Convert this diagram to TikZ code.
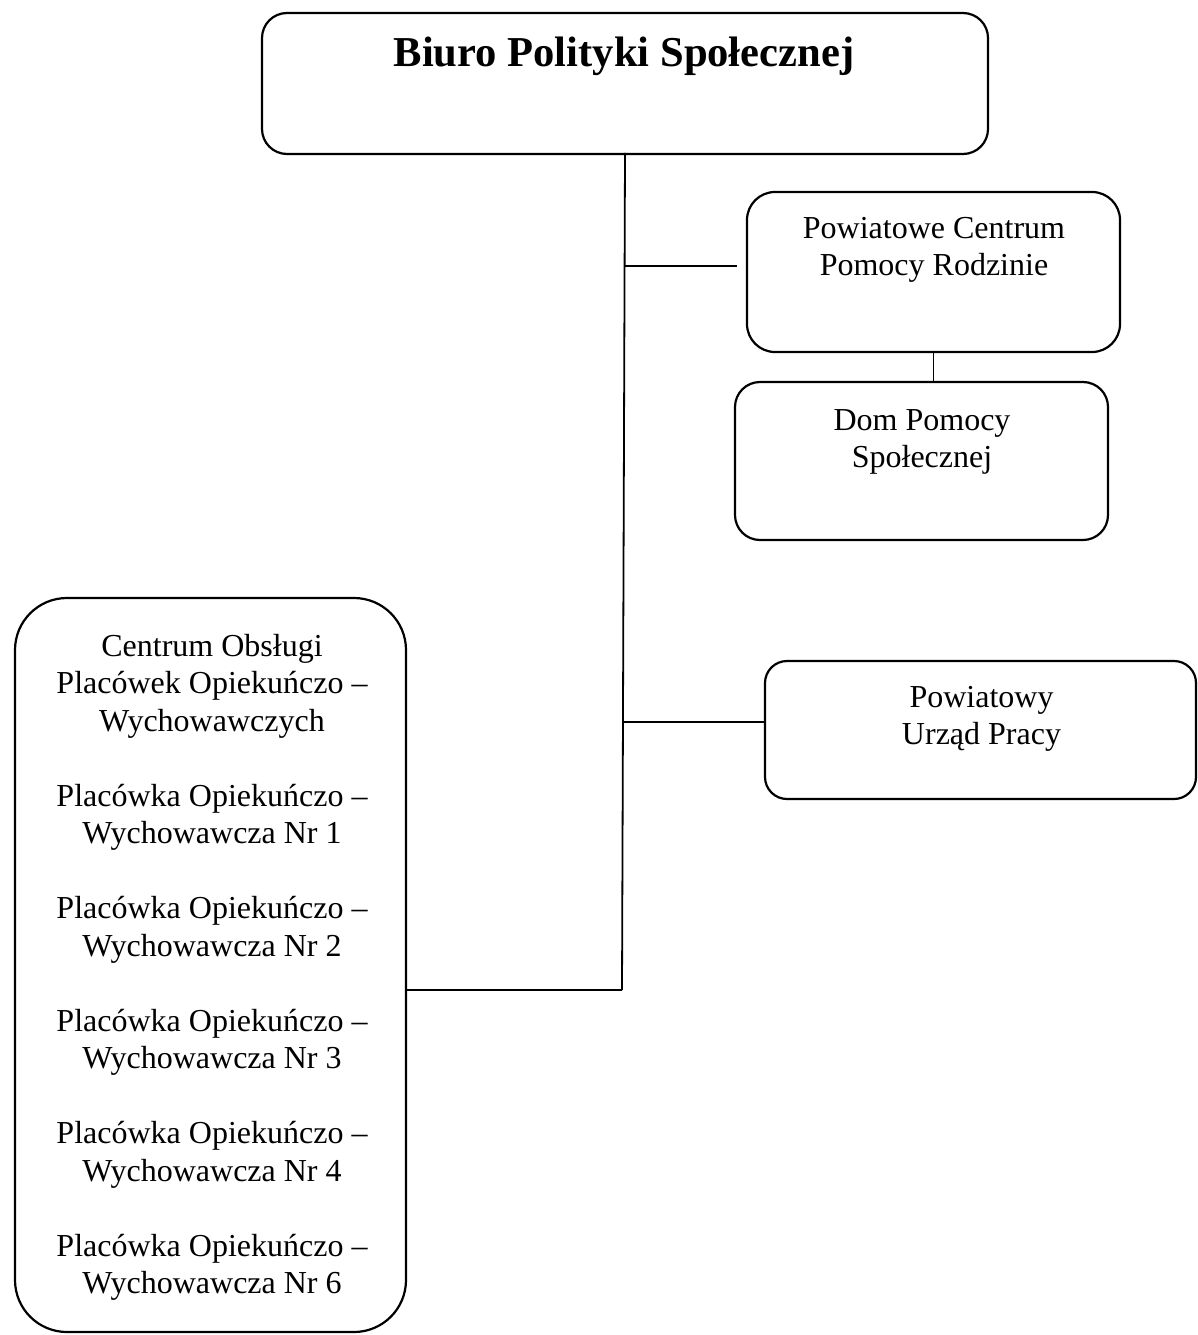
\documentclass[tikz,border=0pt]{standalone}
\usepackage{fontspec}
\setmainfont{Liberation Serif}
\usetikzlibrary{calc}
\begin{document}
\begin{tikzpicture}[x=1pt,y=-1pt,
  box/.style={draw, line width=2.2pt, rounded corners=#1, inner sep=0pt},
  box/.default=25pt,
  lbl/.style={anchor=north, inner sep=0pt, align=center, font=\fontsize{32}{37.5}\selectfont},
  ttl/.style={anchor=north, inner sep=0pt, font=\fontsize{42.6}{50}\selectfont\bfseries},
  conn/.style={line width=1.8pt}]
\useasboundingbox[fill=white] (0,0) rectangle (1197,1335);
% boxes
\node[box, minimum width=726pt, minimum height=141pt] (top) at (625,83.5) {};
\node[box=28pt, minimum width=373pt, minimum height=160pt] (pcpr) at (933.5,272) {};
\node[box, minimum width=373pt, minimum height=158pt] (dps) at (921.5,461) {};
\node[box=22pt, minimum width=431pt, minimum height=138pt] (pup) at (980.5,730) {};
\node[box=52pt, minimum width=391pt, minimum height=734pt] (cop) at (210.5,965) {};
% texts
\node[ttl] (top-t) at (624,37) {Biuro Polityki Społecznej};
\node[lbl] (pcpr-t) at (934,217) {Powiatowe Centrum\\Pomocy Rodzinie};
\node[lbl] (dps-t) at (922,409) {Dom Pomocy\\Społecznej};
\node[lbl] (pup-t) at (981.5,686) {Powiatowy\\Urząd Pracy};
\node[lbl] (cop-t) at (212,634) {Centrum Obsługi\\Placówek Opiekuńczo –\\Wychowawczych\\[37.5pt]%
Placówka Opiekuńczo –\\Wychowawcza Nr 1\\[37.5pt]%
Placówka Opiekuńczo –\\Wychowawcza Nr 2\\[37.5pt]%
Placówka Opiekuńczo –\\Wychowawcza Nr 3\\[37.5pt]%
Placówka Opiekuńczo –\\Wychowawcza Nr 4\\[37.5pt]%
Placówka Opiekuńczo –\\Wychowawcza Nr 6};
% connectors
\coordinate (j1) at (624,266);
\coordinate (j2) at (623,722);
\coordinate (j3) at (622,990);
\draw[conn] (top.south) -- (625,153) -- (j3);
\draw[conn, shorten >=9pt] (j1) -- (j1 -| pcpr.west);
\draw[conn] (j2) -- (j2 -| pup.west);
\draw[conn] (j3) -- (j3 -| cop.east);
\draw[conn] (pcpr.south) -- (pcpr.south |- dps.north);
\end{tikzpicture}
\end{document}
